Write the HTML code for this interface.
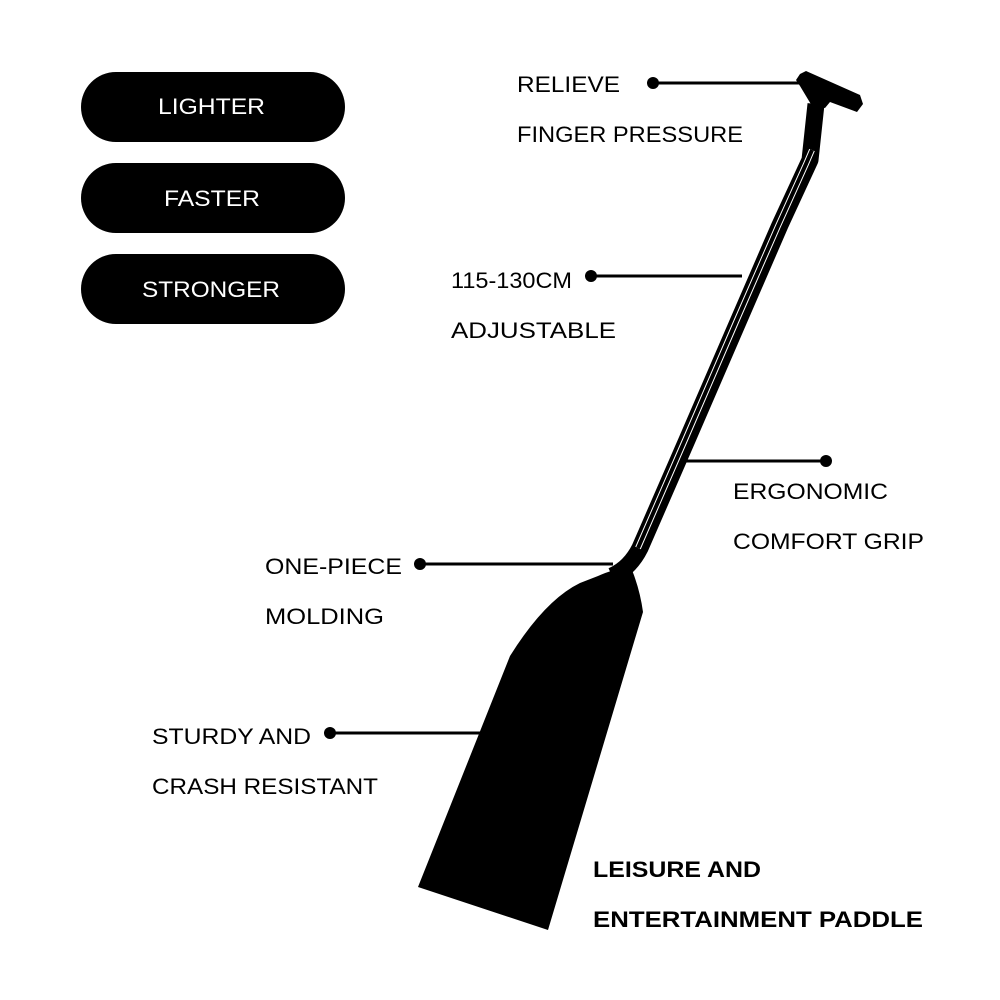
<!DOCTYPE html>
<html><head><meta charset="utf-8"><style>
html,body{margin:0;padding:0;background:#fff;}
svg{display:block}
text{font-family:"Liberation Sans",sans-serif;}
</style></head><body>
<svg width="1000" height="1000" viewBox="0 0 1000 1000" xmlns="http://www.w3.org/2000/svg">
<rect width="1000" height="1000" fill="#fff"/>
<rect x="81" y="72" width="264" height="70" rx="35" fill="#000"/>
<rect x="81" y="163" width="264" height="70" rx="35" fill="#000"/>
<rect x="81" y="254" width="264" height="70" rx="35" fill="#000"/>
<g fill="#fff" font-size="22">
<text x="158" y="114" textLength="107" lengthAdjust="spacingAndGlyphs">LIGHTER</text>
<text x="164" y="206" textLength="96" lengthAdjust="spacingAndGlyphs">FASTER</text>
<text x="142" y="297" textLength="138" lengthAdjust="spacingAndGlyphs">STRONGER</text>
</g>
<polygon points="800,74 806,71 860,95 863,104 857,112 830,102 825,108 812,106 800,86 796,80" fill="#000"/>
<path d="M816,104 L810,160 L780,225 L738,322 L687,440 L640,548 Q630,568 612,576" fill="none" stroke="#000" stroke-width="17" stroke-linejoin="round"/>
<path d="M812,150 L806,164 L778,226 L736,322 L685,440 L638,548" fill="none" stroke="#fff" stroke-width="6"/>
<path d="M812,150 L806,164 L778,226 L736,322 L685,440 L638,548" fill="none" stroke="#000" stroke-width="4"/>
<path d="M598,576 Q620,566 632,570 Q640,590 643,612 L548,930 L418,887 L510,656 Q545,600 580,583 Z" fill="#000"/>
<g stroke="#000" stroke-width="3">
<line x1="653" y1="83" x2="800" y2="83"/>
<line x1="591" y1="276" x2="742" y2="276"/>
<line x1="826" y1="461" x2="680" y2="461"/>
<line x1="420" y1="564" x2="613" y2="564"/>
<line x1="330" y1="733" x2="492" y2="733"/>
</g>
<g fill="#000">
<circle cx="653" cy="83" r="6"/>
<circle cx="591" cy="276" r="6"/>
<circle cx="826" cy="461" r="6"/>
<circle cx="420" cy="564" r="6"/>
<circle cx="330" cy="733" r="6"/>
</g>
<g fill="#000" font-size="22">
<text x="517" y="92" textLength="103" lengthAdjust="spacingAndGlyphs">RELIEVE</text>
<text x="517" y="142" textLength="226" lengthAdjust="spacingAndGlyphs">FINGER PRESSURE</text>
<text x="451" y="288" textLength="121" lengthAdjust="spacingAndGlyphs">115-130CM</text>
<text x="451" y="338" textLength="165" lengthAdjust="spacingAndGlyphs">ADJUSTABLE</text>
<text x="733" y="499" textLength="155" lengthAdjust="spacingAndGlyphs">ERGONOMIC</text>
<text x="733" y="549" textLength="191" lengthAdjust="spacingAndGlyphs">COMFORT GRIP</text>
<text x="265" y="574" textLength="137" lengthAdjust="spacingAndGlyphs">ONE-PIECE</text>
<text x="265" y="624" textLength="119" lengthAdjust="spacingAndGlyphs">MOLDING</text>
<text x="152" y="744" textLength="159" lengthAdjust="spacingAndGlyphs">STURDY AND</text>
<text x="152" y="794" textLength="226" lengthAdjust="spacingAndGlyphs">CRASH RESISTANT</text>
<text x="593" y="877" font-weight="bold" textLength="168" lengthAdjust="spacingAndGlyphs">LEISURE AND</text>
<text x="593" y="927" font-weight="bold" textLength="330" lengthAdjust="spacingAndGlyphs">ENTERTAINMENT PADDLE</text>
</g>
</svg>
</body></html>
